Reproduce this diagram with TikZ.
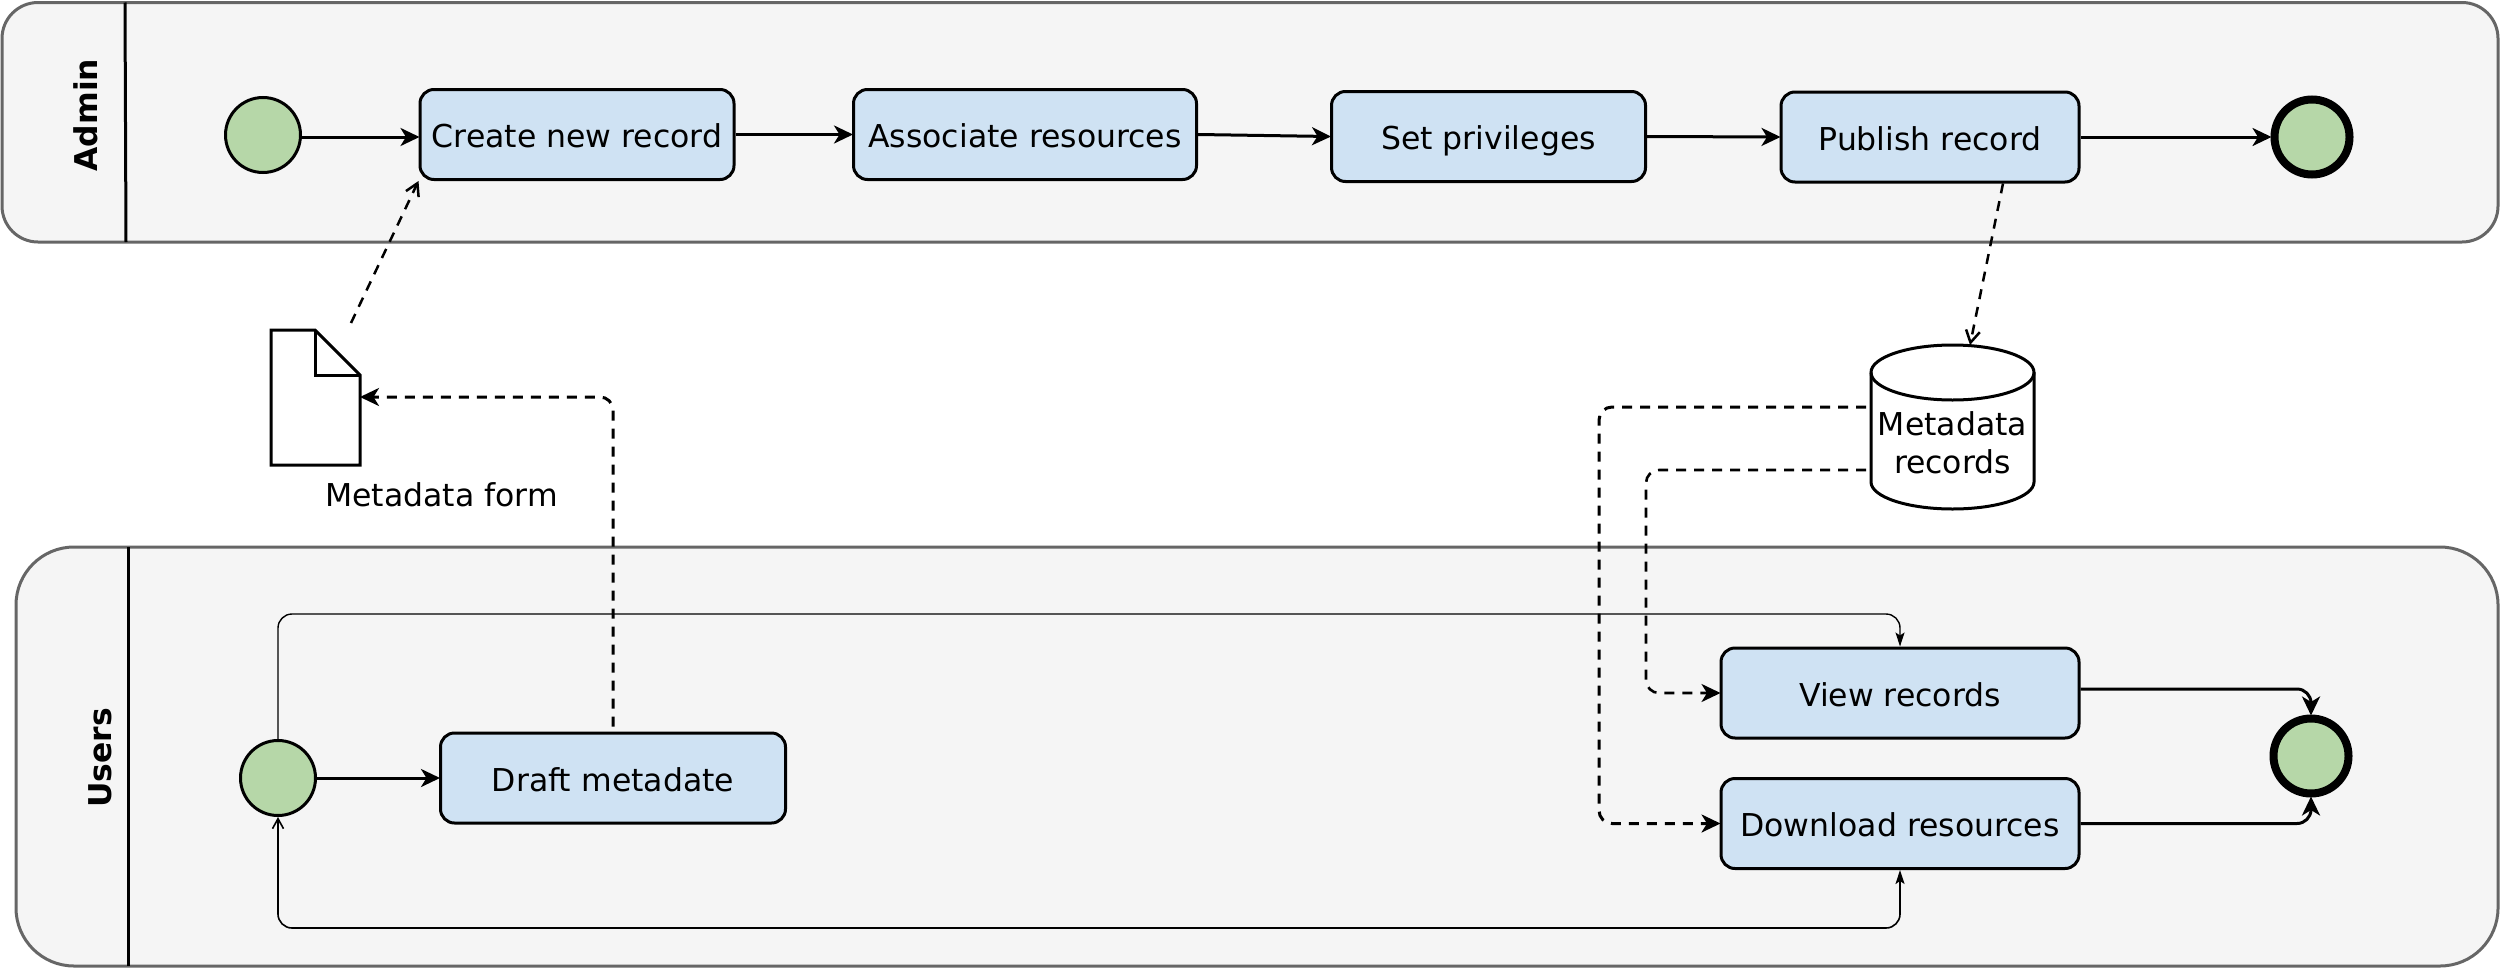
\documentclass[tikz,border=0pt]{standalone}
\usepackage{fontspec}
\setmainfont{DejaVu Sans}
\usetikzlibrary{arrows.meta,shapes.geometric}
\definecolor{poolfill}{HTML}{F5F5F5}
\definecolor{poolline}{HTML}{666666}
\definecolor{boxfill}{HTML}{CFE2F3}
\definecolor{evfill}{HTML}{B6D7A8}
\tikzset{
  x=1pt,y=-1pt,
  pool/.style={draw=poolline,fill=poolfill,line width=3pt},
  divider/.style={draw=black,line width=3pt},
  lane/.style={font=\fontsize{31.4}{37}\selectfont\bfseries,rotate=90,inner sep=0pt},
  task/.style={draw=black,fill=boxfill,line width=3pt,rounded corners=14pt,inner sep=0pt,font=\fontsize{31.5}{37}\selectfont,text height=26.5pt,text depth=0.5pt},
  startev/.style={circle,draw=black,fill=evfill,line width=3pt,minimum size=75pt,inner sep=0pt},
  endev/.style={circle,draw=black,fill=evfill,line width=8pt,minimum size=75pt,inner sep=0pt},
  flow/.style={draw=black,line width=3pt,shorten >=-1pt,-{Stealth[length=19pt,width=18pt,inset=5.5pt]}},
  dflow/.style={draw=black,line width=3pt,dash pattern=on 10pt off 8pt,rounded corners=13pt,shorten >=-1pt,-{Stealth[length=19pt,width=18pt,inset=5.5pt,sep=0pt]}},
  oflow/.style={draw=black,line width=2.5pt,dash pattern=on 10pt off 8pt,-{Straight Barb[length=12pt,width=14pt]}},
  thin/.style={draw=black,line width=1.6pt,rounded corners=14pt},
  lbl/.style={font=\fontsize{31.5}{37}\selectfont,inner sep=0pt,align=center},
}
\begin{document}
\begin{tikzpicture}
\useasboundingbox (0,0) rectangle (2500,969);
% pools
\path[pool,rounded corners=36pt] (2,2.5) rectangle (2498,242);
\coordinate (adtop) at (125,2.5); \coordinate (adbot) at (126,242);
\draw[divider] (adtop) -- (adbot);
\path[pool,rounded corners=58pt] (16,547) rectangle (2498,966);
\coordinate (ustop) at (128,547); \coordinate (usbot) at (128,966);
\draw[divider] (ustop) -- (usbot);
\node[lane] (adminl) at (86,115) {Admin};
\node[lane] (usersl) at (100,758) {Users};
% admin lane
\node[startev] (as) at (263,135) {};
\node[task,minimum width=314pt,minimum height=90pt] (create) at (577,134.5) {Create new record};
\node[task,minimum width=343pt,minimum height=90pt] (assoc) at (1025,134.5) {Associate resources};
\node[task,minimum width=314pt,minimum height=90pt] (priv) at (1488.5,136.5) {Set privileges};
\node[task,minimum width=298pt,minimum height=90pt] (pub) at (1930,137) {Publish record};
\node[endev] (ae) at (2312,137) {};
% doc
\coordinate (dnw) at (271,330); \coordinate (dfa) at (315,330); \coordinate (dfb) at (360,375);
\coordinate (dse) at (360,465); \coordinate (dsw) at (271,465); \coordinate (dfc) at (315,375);
\draw[line width=3pt,fill=white,line join=miter] (dnw) -- (dfa) -- (dfb) -- (dse) -- (dsw) -- cycle;
\draw[line width=3pt] (dfa) -- (dfc) -- (dfb);
\coordinate (docr) at (361,397);
\coordinate (doct) at (351,323);
\node[lbl] (docl) at (441.5,495) {Metadata form};
% cylinder
\path[draw=black,fill=white,line width=3pt] (1871,372.5) arc[start angle=180,end angle=0,x radius=81.5pt,y radius=27.5pt]
  -- (2034,482) arc[start angle=360,end angle=180,x radius=81.5pt,y radius=27pt] -- cycle;
\draw[line width=3pt] (1871,372.5) arc[start angle=180,end angle=360,x radius=81.5pt,y radius=27.5pt];
\node[lbl] (cyll) at (1952.5,442.5) {Metadata\\[1pt]records};
\coordinate (cyltop) at (1970,345);
\coordinate (cyla) at (1866,407);
\coordinate (cylb) at (1866,470);
\coordinate (dlft) at (1599,823.5);
\coordinate (vlft) at (1646,693);
\coordinate (vtop) at (1900,614);
\coordinate (dbot) at (1900,928);
% users lane
\node[startev] (us) at (278,778) {};
\node[task,minimum width=345pt,minimum height=90pt] (draft) at (613,778) {Draft metadate};
\node[task,minimum width=358pt,minimum height=90pt] (view) at (1900,693) {View records};
\node[task,minimum width=358pt,minimum height=90pt] (down) at (1900,823.5) {Download resources};
\node[endev] (ue) at (2311,756) {};
% flows
\draw[flow] ([yshift=-2pt]as.east) -- ([yshift=-2.5pt]create.west);
\draw[flow] (create.east) -- (assoc.west);
\draw[flow] (assoc.east) -- (priv.west);
\draw[flow] (priv.east) -- (pub.west);
\draw[flow] (pub.east) -- (ae.west);
\draw[flow] (us.east) -- (draft.west);
\draw[flow,rounded corners=14pt] ([yshift=4pt]view.east) -| (ue.north);
\draw[flow,rounded corners=14pt] (down.east) -| (ue.south);
\draw[oflow] (doct) -- (create.south west);
\draw[oflow] ([xshift=73pt]pub.south) -- (cyltop);
\draw[dflow] ([yshift=5pt]draft.north) |- (docr);
\draw[dflow] (cyla) -| (dlft) -- (down.west);
\draw[dflow,line width=2.6pt] (cylb) -| (vlft) -- (view.west);
\draw[thin,line width=1.4pt,-{Stealth[length=14pt,width=9pt,inset=3pt]}] (us.north) |- (vtop) -- (view.north);
\draw[thin,{Straight Barb[length=10pt,width=11pt]}-{Stealth[length=14pt,width=9pt,inset=3pt]}] (us.south) |- (dbot) -- (down.south);
\end{tikzpicture}
\end{document}
